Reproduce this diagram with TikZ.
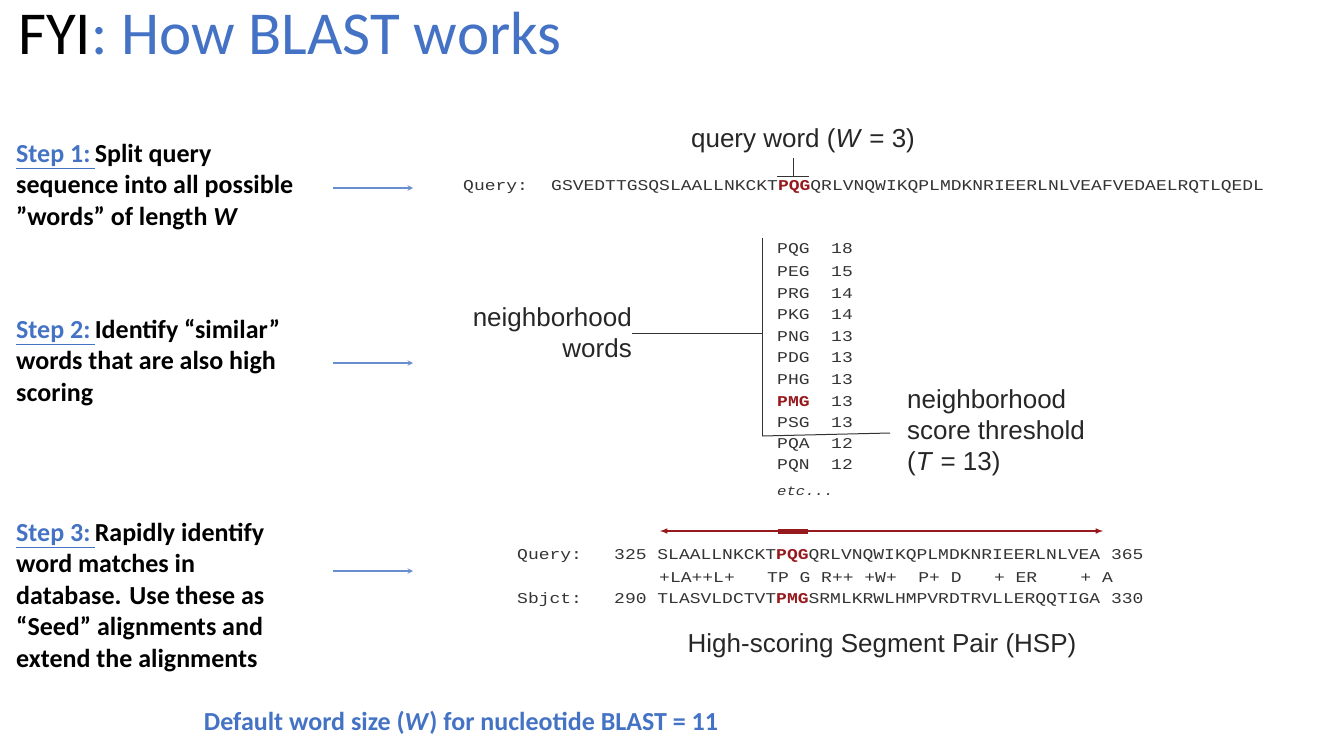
\documentclass[tikz,border=0pt]{standalone}
\usepackage{fontspec}
\setmainfont{Carlito}
\newfontfamily\arialf{Liberation Sans}
\newfontfamily\monof[FakeStretch=1.2]{Liberation Mono}
\definecolor{pblue}{RGB}{68,114,196}
\definecolor{dred}{RGB}{150,25,30}
\begin{document}
\begin{tikzpicture}[x=1pt,y=-1pt,
  stepbox/.style={anchor=north west,align=left,font=\fontsize{26}{31.5}\selectfont\bfseries,inner sep=0},
  seq/.style={anchor=west,inner sep=0,font=\monof\fontsize{15}{15}\selectfont,text=black!80},
  lab/.style={inner sep=0,font=\arialf\fontsize{26}{31}\selectfont,text=black!85},
  barrow/.style={->,draw=pblue!80,line width=1.4pt,>=stealth},
  ln/.style={draw=black!80,line width=1pt}]
\useasboundingbox (0,0) rectangle (1342,744);
\node[anchor=west,inner sep=0,font=\fontsize{61}{61}\selectfont] (title) at (18,34) {FYI\textcolor{pblue}{: How BLAST works}};
\node[stepbox] (s1) at (16,144) {\textcolor{pblue}{\underline{Step 1:\,}}Split query\\sequence into all possible\\”words” of length \textit{W}};
\node[stepbox] (s2) at (16,319) {\textcolor{pblue}{\underline{Step 2:\,}}Identify “similar”\\words that are also high\\scoring};
\node[stepbox] (s3) at (16,523) {\textcolor{pblue}{\underline{Step 3:\,}}Rapidly identify\\word matches in\\database. Use these as\\“Seed” alignments and\\extend the alignments};
\coordinate (a1s) at (333,188); \coordinate (a1e) at (413,188);
\coordinate (a2s) at (333,363); \coordinate (a2e) at (413,363);
\coordinate (a3s) at (333,571); \coordinate (a3e) at (413,571);
\draw[barrow] (a1s) -- (a1e);
\draw[barrow] (a2s) -- (a2e);
\draw[barrow] (a3s) -- (a3e);
% step 1
\node[lab] (qw) at (803,141) {query word (\textit{W} = 3)};
\node[seq] (qlab) at (463,187) {Query:};
\node[seq] (qseq) at (551,187) {GSVEDTTGSQSLAALLNKCKT\textcolor{dred}{\textbf{PQG}}QRLVNQWIKQPLMDKNRIEERLNLVEAFVEDAELRQTLQEDL};
\coordinate (tk) at (793,158); \coordinate (tb) at (793,176);
\draw[ln] (tk) -- (tb);
\draw[ln] (777,176) -- (809,176);
% step 2
\coordinate (vt) at (762,238); \coordinate (vb) at (762,436);
\draw[ln] (vt) -- (vb);
\coordinate (hw) at (632,333); \coordinate (hm) at (762,333);
\draw[ln] (hw) -- (hm);
\coordinate (th) at (890,433);
\draw[ln] (vb) -- (th);
\node[lab,align=right,anchor=east] (nw) at (632,333) {neighborhood\\words};
\node[lab,align=left,anchor=west] (nt) at (907,433) {neighborhood\\score threshold\\(\textit{T} = 13)};
\foreach \w/\s [count=\i] in {PQG/18,PEG/15,PRG/14,PKG/14,PNG/13,PDG/13,PHG/13,{\textcolor{dred}{\textbf{PMG}}}/13,PSG/13,PQA/12,PQN/12}
  \node[seq] (n\i) at (777,{250+(\i-1)*21.6}) {\w\ \ \s};
\node[seq,font=\monof\itshape\fontsize{13}{13}\selectfont] (etc) at (777,491) {etc...};
% step 3
\coordinate (hl) at (660,531); \coordinate (hr) at (1103,531);
\draw[dred,line width=1.5pt,<->,>=latex] (hl) -- (hr);
\draw[dred,line width=5pt] (778,531) -- (808,531);
\node[seq] (hq) at (517,556) {Query:};
\node[seq] (hq1) at (614,556) {325 SLAALLNKCKT\textcolor{dred}{\textbf{PQG}}QRLVNQWIKQPLMDKNRIEERLNLVEA 365};
\node[seq] (hm2) at (659,578) {+LA++L+\ \ \ TP G R++ +W+\ \ P+ D\ \ \ + ER\ \ \ \ + A};
\node[seq] (hs) at (517,600) {Sbjct:};
\node[seq] (hs1) at (614,600) {290 TLASVLDCTVT\textcolor{dred}{\textbf{PMG}}SRMLKRWLHMPVRDTRVLLERQQTIGA 330};
\node[lab] (hsp) at (882,646) {High-scoring Segment Pair (HSP)};
\node[inner sep=0,font=\fontsize{26}{26}\selectfont\bfseries,text=pblue] (def) at (461,723) {Default word size (\textit{W}) for nucleotide BLAST = 11};
\end{tikzpicture}
\end{document}
